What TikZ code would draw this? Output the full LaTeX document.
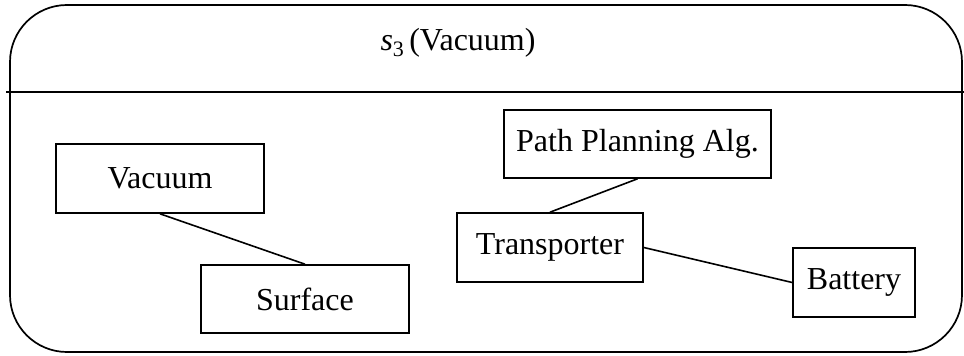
\documentclass[tikz,border=0pt]{standalone}
\usepackage{fontspec}
\setmainfont{Liberation Serif}
\begin{document}
\begin{tikzpicture}[x=1pt,y=-1pt,
  part/.style={draw,line width=1.6pt,inner sep=0pt,font=\fontsize{32}{38}\selectfont},
  link/.style={line width=1.6pt}]
\useasboundingbox (0,0) rectangle (964,356);
% state container with title compartment
\draw[line width=1.7pt,rounded corners=57pt] (10,5) rectangle (962,352);
\draw[line width=1.7pt] (6,92) -- (964,92);
\node[font=\fontsize{32}{38}\selectfont,anchor=base] (title) at (458,50)
  {\textit{s}\raisebox{-0.45ex}{\fontsize{22}{22}\selectfont 3}\,(Vacuum)};
% parts
\node[part,minimum width=208pt,minimum height=69pt] (vac) at (160,178.5) {Vacuum};
\node[part,minimum width=208pt,minimum height=68pt] (surf) at (305,299) {Surface};
\node[part,minimum width=267pt,minimum height=68pt] (path) at (637.5,144) {Path Planning Alg.};
\node[part,minimum width=186pt,minimum height=69pt] (trans) at (550,247.5) {Transporter};
\node[part,minimum width=122pt,minimum height=69pt] (bat) at (854,282.5) {Battery};
% connectors
\draw[link] (vac.south) -- (surf.north);
\draw[link] (path.south) -- (trans.north);
\draw[link] (trans.east) -- (bat.west);
\end{tikzpicture}
\end{document}
